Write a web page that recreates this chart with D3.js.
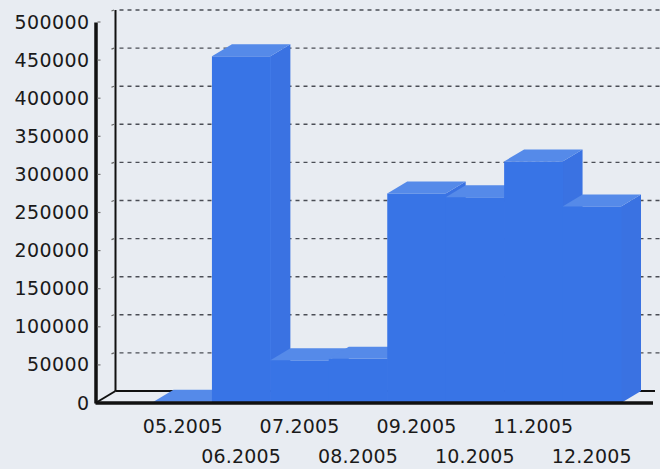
<!DOCTYPE html>
<html>
<head>
<meta charset="utf-8">
<script src="https://cdn.jsdelivr.net/npm/d3@7"></script>
<style>
  html, body { margin: 0; padding: 0; background: #e8ecf2; }
  svg { display: block; }
  svg text { font-family: "DejaVu Sans", sans-serif; }
</style>
</head>
<body>
<svg id="chart"></svg>
<script>
// Data
const months = ["05.2005", "06.2005", "07.2005", "08.2005", "09.2005", "10.2005", "11.2005", "12.2005"];
const values = [1500, 455000, 56000, 58000, 275000, 270000, 317000, 258000];
const yTicks = [0, 50000, 100000, 150000, 200000, 250000, 300000, 350000, 400000, 450000, 500000];

const width = 660, height = 469;
const dx = 20, dy = -12;   // 3D depth offset

const svg = d3.select("#chart")
    .attr("width", width)
    .attr("height", height);

svg.append("rect")
    .attr("width", width)
    .attr("height", height)
    .attr("fill", "#e8ecf2");

const x = d3.scaleBand()
    .domain(months)
    .range([153.5, 621])
    .padding(0);

const y = d3.scaleLinear()
    .domain([0, 500000])
    .range([403, 22]);

const axisX = 95.5;

// Back wall: dashed grid lines and back axis
const back = svg.append("g");

back.selectAll("line.grid")
    .data(yTicks.filter(d => d > 0))
    .enter().append("line")
    .attr("class", "grid")
    .attr("x1", axisX + dx + 4)
    .attr("x2", width)
    .attr("y1", d => y(d) + dy)
    .attr("y2", d => y(d) + dy)
    .attr("stroke", "#4a4d55")
    .attr("stroke-width", 1.4)
    .attr("stroke-dasharray", "4,4");

back.selectAll("line.btick")
    .data(yTicks.filter(d => d > 0))
    .enter().append("line")
    .attr("class", "btick")
    .attr("x1", axisX + dx - 4)
    .attr("x2", axisX + dx - 1.5)
    .attr("y1", d => y(d) + dy + 1)
    .attr("y2", d => y(d) + dy)
    .attr("stroke", "#666")
    .attr("stroke-width", 1.2);

back.append("line")
    .attr("x1", axisX + dx).attr("x2", axisX + dx)
    .attr("y1", y(500000) + dy).attr("y2", y(0) + dy)
    .attr("stroke", "#111").attr("stroke-width", 2);

back.append("line")
    .attr("x1", axisX + dx).attr("x2", 655)
    .attr("y1", y(0) + dy).attr("y2", y(0) + dy)
    .attr("stroke", "#111").attr("stroke-width", 2);

back.append("line")
    .attr("x1", axisX).attr("x2", axisX + dx)
    .attr("y1", y(0)).attr("y2", y(0) + dy)
    .attr("stroke", "#111").attr("stroke-width", 2);

// Bars: side face, front face, top face (left to right)
const bw = x.bandwidth();
const bars = svg.append("g")
    .selectAll("g")
    .data(months.map((m, i) => ({ month: m, value: values[i] })))
    .enter().append("g");

bars.append("path")
    .attr("fill", "#3a72e2")
    .attr("d", d => {
        const x1 = x(d.month) + bw, y0 = y(0), y1 = y(d.value);
        return `M${x1},${y0}L${x1},${y1}L${x1 + dx},${y1 + dy}L${x1 + dx},${y0 + dy}Z`;
    });

bars.append("rect")
    .attr("x", d => x(d.month))
    .attr("y", d => y(d.value))
    .attr("width", bw + 0.5)
    .attr("height", d => y(0) - y(d.value))
    .attr("fill", "#3874e6");

bars.append("path")
    .attr("fill", "#558ae9")
    .attr("d", d => {
        const x0 = x(d.month), x1 = x0 + bw, y1 = y(d.value);
        return `M${x0},${y1}L${x1},${y1}L${x1 + dx},${y1 + dy}L${x0 + dx},${y1 + dy}Z`;
    });

// Front y axis
const yAxis = svg.append("g")
    .attr("transform", `translate(${axisX},0)`)
    .call(d3.axisLeft(y).tickValues(yTicks).tickSize(0).tickPadding(6).tickFormat(d3.format("d")));

yAxis.attr("font-family", null);

yAxis.select(".domain")
    .attr("stroke", "#111")
    .attr("stroke-width", 3.5);

yAxis.selectAll("text")
    .attr("fill", "#1a1a1a")
    .style("font-size", "19px")
    .style("letter-spacing", "0.4px");

svg.append("g")
    .selectAll("line")
    .data(yTicks.filter(d => d > 0))
    .enter().append("line")
    .attr("x1", axisX + 2)
    .attr("x2", axisX + 5)
    .attr("y1", d => y(d))
    .attr("y2", d => y(d))
    .attr("stroke", "#777")
    .attr("stroke-width", 1.2);

// Front x axis
svg.append("line")
    .attr("x1", axisX).attr("x2", 653)
    .attr("y1", y(0)).attr("y2", y(0))
    .attr("stroke", "#111").attr("stroke-width", 3.5);

const xAxis = svg.append("g")
    .attr("transform", `translate(0,${y(0)})`)
    .call(d3.axisBottom(x).tickSize(0).tickPadding(16.5));

xAxis.attr("font-family", null);
xAxis.select(".domain").remove();

xAxis.selectAll("text")
    .attr("fill", "#1a1a1a")
    .attr("y", (d, i) => i % 2 === 0 ? 16.5 : 46.5)
    .style("font-size", "19px")
    .style("letter-spacing", "0.2px");
</script>
</body>
</html>
